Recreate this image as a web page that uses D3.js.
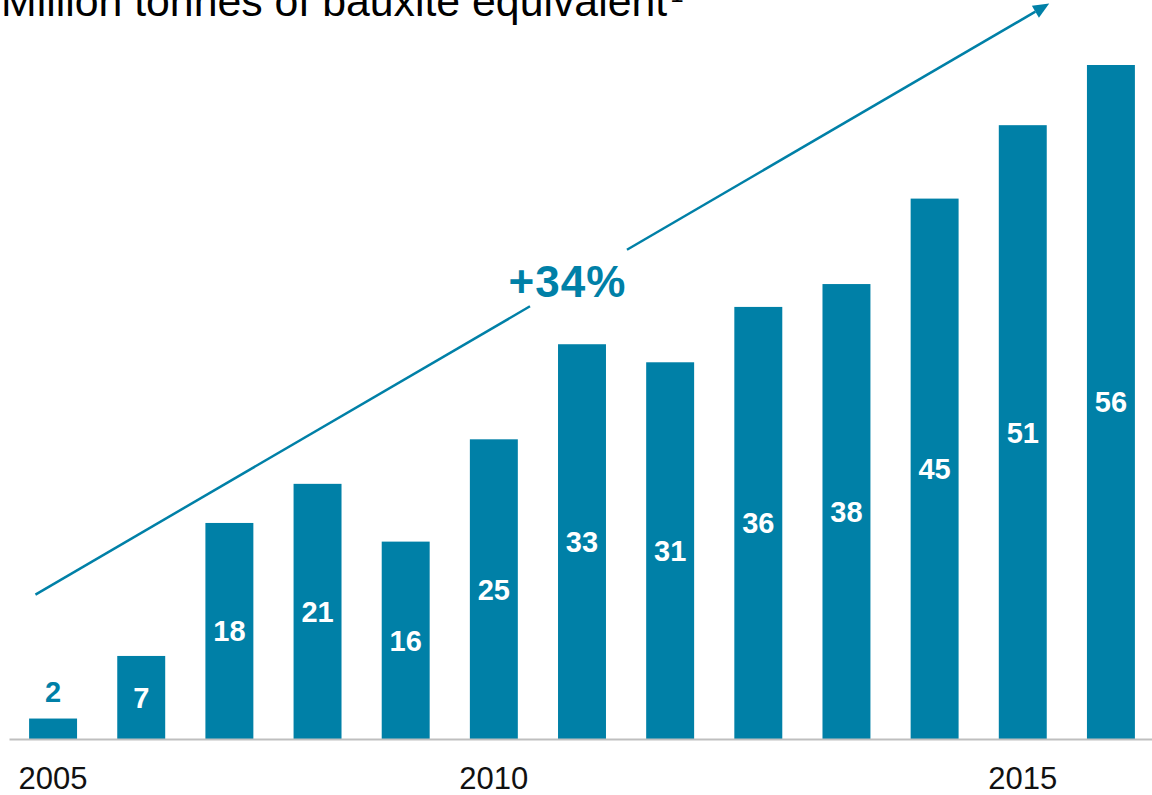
<!DOCTYPE html>
<html>
<head>
<meta charset="utf-8">
<script src="https://cdn.jsdelivr.net/npm/d3@7"></script>
<style>
  body { margin: 0; background: #fff; }
  svg { display: block; font-family: "Liberation Sans", Arial, sans-serif; }
</style>
</head>
<body>
<div id="chart"></div>
<script>
// datos
const years = ["2005", "2006", "2007", "2008", "2009", "2010", "2011", "2012", "2013", "2014", "2015", "2016", "2017"];
const values = [1.7, 6.9, 17.95, 21.2, 16.4, 24.9, 32.8, 31.3, 35.9, 37.8, 44.9, 51.0, 56.0];
const valueLabels = ["2", "7", "18", "21", "16", "25", "33", "31", "36", "38", "45", "51", "56"];
// etiquetas del eje tal como aparecen (solo tres)
const tickLabels = ["2005", "", "", "", "", "2010", "", "", "", "", "", "2015", ""];
const titleText = "Million tonnes of bauxite equivalent";
const growthLabel = "+34%";
// flecha de tendencia: [posición de categoría, valor]
const arrowFrom = [-0.2, 12.0];
const arrowTo = [11.3, 61.1];
const arrowGap = [5.41, 6.51];

const width = 1152, height = 795;
const teal = "#0080a7";
const baseY = 739;

const svg = d3.select("#chart")
    .append("svg")
    .attr("width", width)
    .attr("height", height);

const x = d3.scaleBand()
    .domain(d3.range(years.length))
    .range([9, 1155])
    .paddingInner(0.456)
    .paddingOuter(0.228);

const y = d3.scaleLinear()
    .domain([0, 56])
    .range([baseY, 65]);

// posición continua en el eje de categorías
const xc = i => x(0) + x.bandwidth() / 2 + i * x.step();

// Barras
svg.selectAll(".bar")
    .data(values)
    .enter()
    .append("rect")
    .attr("class", "bar")
    .attr("x", (d, i) => x(i))
    .attr("y", d => y(d))
    .attr("width", x.bandwidth())
    .attr("height", d => baseY - y(d))
    .attr("fill", teal);

// Eje inferior
const axis = svg.append("g")
    .attr("transform", `translate(0,${baseY})`)
    .call(d3.axisBottom(x).tickSize(0).tickSizeOuter(0).tickPadding(28)
        .tickFormat(i => tickLabels[i]));
axis.select(".domain").attr("stroke", "#bfbfbf").attr("stroke-width", 2);
axis.selectAll("text")
    .attr("font-size", 31)
    .attr("font-family", "Liberation Sans, Arial, sans-serif")
    .attr("fill", "#111");

// Etiquetas de valor
svg.selectAll(".val")
    .data(values)
    .enter()
    .append("text")
    .attr("class", "val")
    .attr("x", (d, i) => xc(i))
    .attr("y", d => {
        const h = baseY - y(d);
        return h < 40 ? y(d) - 27 : y(d) + h / 2;
    })
    .attr("dy", "0.36em")
    .attr("text-anchor", "middle")
    .attr("font-size", 29)
    .attr("font-weight", "bold")
    .attr("fill", d => (baseY - y(d)) < 40 ? teal : "#fff")
    .text((d, i) => valueLabels[i]);

// Título (recortado arriba)
const title = svg.append("text")
    .attr("x", 1)
    .attr("y", 16)
    .attr("font-size", 42.8)
    .attr("fill", "#000")
    .text(titleText);
title.append("tspan")
    .attr("font-size", 24)
    .attr("dx", 3)
    .attr("dy", -14)
    .text("1");

// Flecha de crecimiento con hueco para la etiqueta
const p0 = [xc(arrowFrom[0]), y(arrowFrom[1])];
const p1 = [xc(arrowTo[0]), y(arrowTo[1])];
const slope = (p1[1] - p0[1]) / (p1[0] - p0[0]);
const atX = px => [px, p0[1] + slope * (px - p0[0])];
const g0 = atX(xc(arrowGap[0]));
const g1 = atX(xc(arrowGap[1]));
const ang = Math.atan2(p1[1] - p0[1], p1[0] - p0[0]);
const headLen = 16, headW = 7;
const back = [p1[0] - headLen * Math.cos(ang), p1[1] - headLen * Math.sin(ang)];

svg.append("line")
    .attr("x1", p0[0]).attr("y1", p0[1])
    .attr("x2", g0[0]).attr("y2", g0[1])
    .attr("stroke", teal).attr("stroke-width", 2.5);
svg.append("line")
    .attr("x1", g1[0]).attr("y1", g1[1])
    .attr("x2", back[0]).attr("y2", back[1])
    .attr("stroke", teal).attr("stroke-width", 2.5);
svg.append("polygon")
    .attr("points", [
        p1,
        [back[0] + headW * Math.sin(ang), back[1] - headW * Math.cos(ang)],
        [back[0] - headW * Math.sin(ang), back[1] + headW * Math.cos(ang)]
    ].map(p => p.join(",")).join(" "))
    .attr("fill", teal);

const mid = atX((g0[0] + g1[0]) / 2 - 10);
svg.append("text")
    .attr("x", mid[0] - 1)
    .attr("y", mid[1])
    .attr("dy", "0.3em")
    .attr("text-anchor", "middle")
    .attr("font-size", 44)
    .attr("font-weight", "bold")
    .attr("letter-spacing", 1)
    .attr("fill", teal)
    .text(growthLabel);
</script>
</body>
</html>
